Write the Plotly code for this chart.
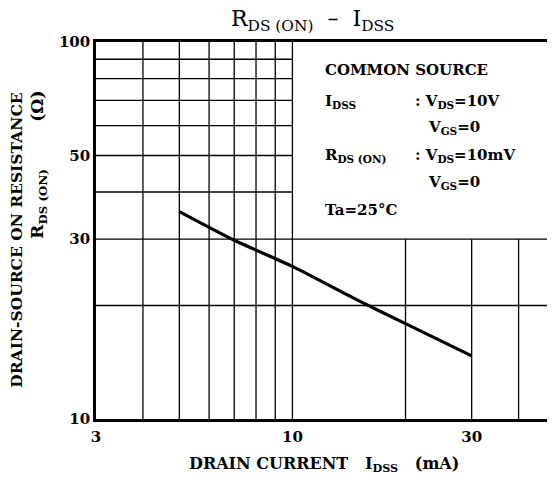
import plotly.graph_objects as go
import math

# data
idss = [5, 7, 10, 15, 20, 30]          # mA
rds_on = [35.5, 29.8, 25.4, 20.6, 17.9, 14.7]  # ohm

x_ticks = [3, 10, 30]
y_ticks = [10, 30, 50, 100]
grid_x_full = [4, 5, 6, 7, 8, 9, 10]
grid_x_low = [20, 30, 40]
grid_y_left = [40, 50, 60, 70, 80, 90]
grid_y_full = [20, 30]

X_MIN, X_MAX = 3, 50
Y_MIN, Y_MAX = 10, 100

FONT = "DejaVu Serif"

fig = go.Figure()
fig.add_trace(go.Scatter(x=idss, y=rds_on, mode="lines",
                         line=dict(color="black", width=3.2, shape="spline", smoothing=0.6),
                         showlegend=False, hoverinfo="skip"))

shapes = []
gl = dict(color="black", width=1.3)
for gx in grid_x_full:
    shapes.append(dict(type="line", xref="x", yref="y", x0=gx, x1=gx, y0=Y_MIN, y1=Y_MAX, line=gl, layer="below"))
for gx in grid_x_low:
    shapes.append(dict(type="line", xref="x", yref="y", x0=gx, x1=gx, y0=Y_MIN, y1=30, line=gl, layer="below"))
for gy in grid_y_left:
    shapes.append(dict(type="line", xref="x", yref="y", x0=X_MIN, x1=10, y0=gy, y1=gy, line=gl, layer="below"))
for gy in grid_y_full:
    shapes.append(dict(type="line", xref="x", yref="y", x0=X_MIN, x1=X_MAX, y0=gy, y1=gy, line=gl, layer="below"))

tickfont = dict(family=FONT, size=15, color="black")

# page body has an 8px margin, so the figure is 8px smaller and offset
fig.update_layout(
    width=547, height=468,
    margin=dict(l=88, r=0, t=34, b=57, autoexpand=False),
    paper_bgcolor="white", plot_bgcolor="white",
    shapes=shapes,
    xaxis=dict(type="log", range=[math.log10(X_MIN), math.log10(X_MAX)],
               tickvals=x_ticks, ticktext=["<b>%d</b>" % v for v in x_ticks],
               showgrid=False, zeroline=False, showline=True, mirror=True, automargin=False,
               linecolor="black", linewidth=2.6, ticks="", tickfont=tickfont, ticklabelstandoff=2),
    yaxis=dict(type="log", range=[math.log10(Y_MIN), math.log10(Y_MAX)],
               tickvals=y_ticks, ticktext=["<b>%d</b>" % v for v in y_ticks],
               showgrid=False, zeroline=False, showline=True, mirror=False, automargin=False,
               linecolor="black", linewidth=2.6, ticks="", tickfont=tickfont, ticklabelstandoff=0),
)

def ann(text, x, y, size=15, xanchor="left", yanchor="middle", angle=0):
    fig.add_annotation(text=text, x=x, y=y, xref="paper", yref="paper",
                       xanchor=xanchor, yanchor=yanchor, showarrow=False,
                       textangle=angle, font=dict(family=FONT, size=size, color="black"))

def py(ypx):
    return (419.3 - ypx) / 377.0

def px(xpx):
    return (xpx - 96) / 459.0

# title
ann("R<sub>DS (ON)</sub>  –  I<sub>DSS</sub>", px(312), py(21), size=22, xanchor="center")
# axis titles
ann("<b>DRAIN CURRENT   I<sub>DSS</sub>   (mA)</b>", px(324), py(465), size=16, xanchor="center")
ann("<b>DRAIN-SOURCE ON RESISTANCE</b>", px(17), py(241), size=15.5, xanchor="center", angle=-90)
ann("<b>R<sub>DS (ON)</sub>        (Ω)</b>", px(39), py(165), size=17, xanchor="center", angle=-90)

# condition box
ann("<b>COMMON SOURCE</b>", px(323), py(70))
ann("<b>I<sub>DSS</sub></b>", px(323), py(102))
ann("<b>: V<sub>DS</sub>=10V</b>", px(413), py(102))
ann("<b>V<sub>GS</sub>=0</b>", px(426), py(128))
ann("<b>R<sub>DS (ON)</sub></b>", px(323), py(156))
ann("<b>: V<sub>DS</sub>=10mV</b>", px(413), py(156))
ann("<b>V<sub>GS</sub>=0</b>", px(426), py(183))
ann("<b>Ta=25°C</b>", px(323), py(210))

fig.write_html("out.html")
